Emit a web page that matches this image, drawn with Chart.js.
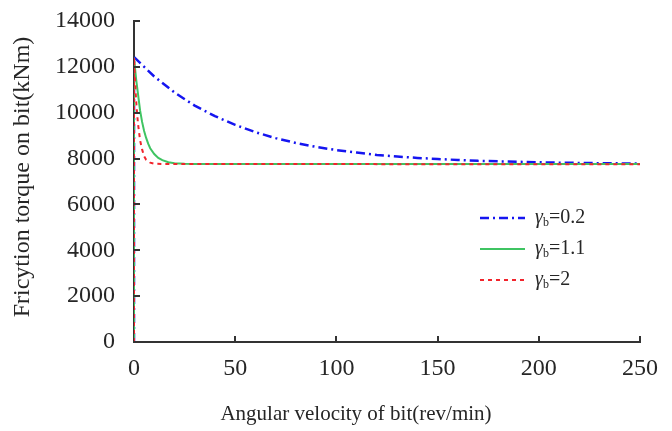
<!DOCTYPE html>
<html>
<head>
<meta charset="utf-8">
<script src="https://cdn.jsdelivr.net/npm/chart.js@4.4.1/dist/chart.umd.min.js"></script>
<style>
  html, body { margin: 0; padding: 0; background: #fff; }
  #wrap { width: 672px; height: 431px; }
</style>
</head>
<body>
<div id="wrap"><canvas id="torqueChart" width="672" height="431"></canvas></div>
<script>
// gamma_b = 0.2 (blue, dash-dot)
const blueX = [0, 0, 10, 20, 30, 40, 50, 60, 70, 80, 90, 100, 110, 120, 130, 140, 150, 160, 170, 180, 190, 200, 210, 220, 230, 240, 250];
const blueY = [0, 12425, 11580, 10880, 10310, 9850, 9470, 9150, 8890, 8680, 8510, 8370, 8260, 8160, 8090, 8030, 7980, 7940, 7900, 7880, 7860, 7840, 7820, 7810, 7800, 7790, 7780];

// gamma_b = 1.1 (green, solid)
const greenX = [0, 0, 1, 2, 3, 4, 5, 6, 7, 8, 10, 12, 14, 17, 20, 25, 30, 50, 250];
const greenY = [0, 12400, 11500, 10800, 10100, 9600, 9200, 8900, 8650, 8450, 8200, 8030, 7930, 7840, 7800, 7775, 7765, 7760, 7760];

// gamma_b = 2 (red, dotted)
const redX = [0, 0, 0.5, 1, 1.5, 2, 3, 4, 5, 6, 8, 10, 15, 250];
const redY = [0, 12400, 11400, 10600, 10000, 9500, 8800, 8400, 8100, 7950, 7820, 7775, 7760, 7755];

const legendLabels = ['0.2', '1.1', '2'];
const xTicks = [0, 50, 100, 150, 200, 250];
const yTicks = [0, 2000, 4000, 6000, 8000, 10000, 12000, 14000];
const xTitle = 'Angular velocity of bit(rev/min)';
const yTitle = 'Fricytion torque on bit(kNm)';

const FONT = '"Liberation Serif", "Times New Roman", serif';
const TEXT = '#262626';

function toPoints(xs, ys) {
  return xs.map((x, i) => ({x: x, y: ys[i]}));
}

const series = [
  {label: legendLabels[0], data: toPoints(blueX, blueY), borderColor: '#1515f0', borderWidth: 2.5, borderDash: [9, 4, 2, 4], order: 2},
  {label: legendLabels[1], data: toPoints(greenX, greenY), borderColor: '#3fc462', borderWidth: 2, borderDash: [], order: 1},
  {label: legendLabels[2], data: toPoints(redX, redY), borderColor: '#f2242c', borderWidth: 2, borderDash: [4, 4], order: 0}
];

// inward tick marks on both axes
const innerTicks = {
  id: 'innerTicks',
  afterDatasetsDraw(chart) {
    const ctx = chart.ctx;
    const xs = chart.scales.x, ys = chart.scales.y;
    const area = chart.chartArea;
    ctx.save();
    ctx.strokeStyle = '#333';
    ctx.lineWidth = 2;
    ctx.beginPath();
    yTicks.forEach(v => {
      const py = Math.round(ys.getPixelForValue(v));
      ctx.moveTo(area.left, py);
      ctx.lineTo(area.left + 6, py);
    });
    xTicks.forEach(v => {
      if (v === 0) return;
      const px = Math.round(xs.getPixelForValue(v));
      ctx.moveTo(px, area.bottom);
      ctx.lineTo(px, area.bottom - 6);
    });
    ctx.stroke();
    ctx.restore();
  }
};

// axis titles, placed like the original
const axisTitles = {
  id: 'axisTitles',
  afterDraw(chart) {
    const ctx = chart.ctx;
    ctx.save();
    ctx.fillStyle = TEXT;
    ctx.textAlign = 'center';
    ctx.textBaseline = 'middle';
    ctx.font = '21px ' + FONT;
    ctx.fillText(xTitle, 356, 414);
    ctx.translate(23, 177);
    ctx.rotate(-Math.PI / 2);
    ctx.font = '24px ' + FONT;
    ctx.fillText(yTitle, 0, 0);
    ctx.restore();
  }
};

// legend inside plot, right side
const insideLegend = {
  id: 'insideLegend',
  afterDraw(chart) {
    const ctx = chart.ctx;
    const x0 = 480, x1 = 525, tx = 535;
    let y = 218;
    ctx.save();
    series.forEach(s => {
      ctx.beginPath();
      ctx.strokeStyle = s.borderColor;
      ctx.lineWidth = s.borderWidth;
      ctx.setLineDash(s.borderDash);
      ctx.moveTo(x0, y);
      ctx.lineTo(x1, y);
      ctx.stroke();
      ctx.setLineDash([]);
      ctx.fillStyle = TEXT;
      ctx.textBaseline = 'middle';
      ctx.textAlign = 'left';
      ctx.font = 'italic 20px ' + FONT;
      ctx.fillText('γ', tx, y);
      let w = ctx.measureText('γ').width;
      ctx.font = '12px ' + FONT;
      ctx.fillText('b', tx + w, y + 5);
      w += ctx.measureText('b').width;
      ctx.font = '20px ' + FONT;
      ctx.fillText('=' + s.label, tx + w, y);
      y += 31;
    });
    ctx.restore();
  }
};

new Chart(document.getElementById('torqueChart'), {
  type: 'line',
  data: {
    datasets: series.map(s => ({
      label: s.label,
      data: s.data,
      borderColor: s.borderColor,
      borderWidth: s.borderWidth,
      borderDash: s.borderDash,
      order: s.order,
      pointRadius: 0,
      fill: false,
      tension: 0
    }))
  },
  options: {
    responsive: false,
    animation: false,
    layout: {padding: {top: 21, right: 32, left: 0, bottom: 0}},
    plugins: {legend: {display: false}, tooltip: {enabled: false}},
    scales: {
      x: {
        type: 'linear',
        min: 0, max: 250,
        afterBuildTicks: axis => { axis.ticks = xTicks.map(v => ({value: v})); },
        afterFit: axis => { axis.height = 89; axis.paddingLeft = 0; axis.paddingRight = 0; },
        ticks: {color: TEXT, font: {family: FONT, size: 24}, padding: 12, maxRotation: 0, callback: v => String(v)},
        grid: {display: true, drawOnChartArea: false, drawTicks: false},
        border: {color: '#333', width: 2}
      },
      y: {
        min: 0, max: 14000,
        afterBuildTicks: axis => { axis.ticks = yTicks.map(v => ({value: v})); },
        afterFit: axis => { axis.width = 134; axis.paddingTop = 0; axis.paddingBottom = 0; },
        ticks: {color: TEXT, font: {family: FONT, size: 24}, padding: 19, callback: v => String(v)},
        grid: {display: true, drawOnChartArea: false, drawTicks: false},
        border: {color: '#333', width: 2}
      }
    }
  },
  plugins: [innerTicks, axisTitles, insideLegend]
});
</script>
</body>
</html>
